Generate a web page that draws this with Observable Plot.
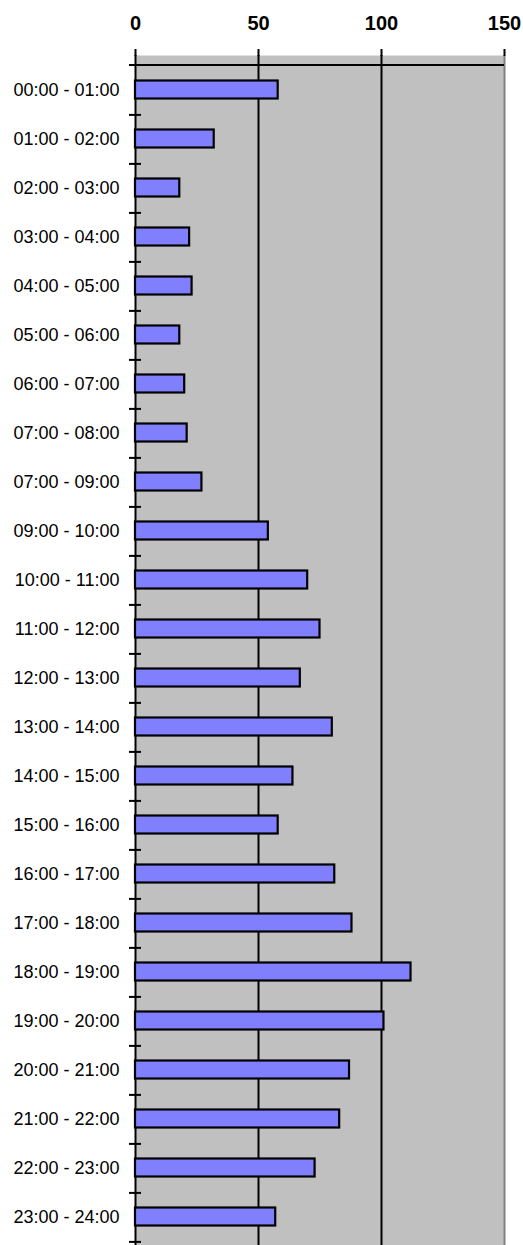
<!DOCTYPE html>
<html><head><meta charset="utf-8">
<script src="https://cdn.jsdelivr.net/npm/d3@7"></script>
<script src="https://cdn.jsdelivr.net/npm/@observablehq/plot@0.6"></script>
<style>html,body{margin:0;padding:0;background:#fff;overflow:hidden}svg{display:block}</style>
</head><body><div id="chart"></div>
<script>
const categories = ["00:00 - 01:00","01:00 - 02:00","02:00 - 03:00","03:00 - 04:00","04:00 - 05:00","05:00 - 06:00","06:00 - 07:00","07:00 - 08:00","07:00 - 09:00","09:00 - 10:00","10:00 - 11:00","11:00 - 12:00","12:00 - 13:00","13:00 - 14:00","14:00 - 15:00","15:00 - 16:00","16:00 - 17:00","17:00 - 18:00","18:00 - 19:00","19:00 - 20:00","20:00 - 21:00","21:00 - 22:00","22:00 - 23:00","23:00 - 24:00"];
const values = [58,32,18,22,23,18,20,21,27,54,70,75,67,80,64,58,81,88,112,101,87,83,73,57];
const xTicks = [0,50,100,150];
const gridValues = [0,50,100];

const data = categories.map((c, i) => ({hour: c, count: values[i]}));

const W = 523, H = 1250, mT = 55, mL = 135, mR = 19, mB = 0;
const bw = (H - mT - mB) / categories.length;
const innerW = W - mL - mR;

const chart = Plot.plot({
  width: W, height: H,
  marginTop: mT, marginLeft: mL, marginRight: mR, marginBottom: mB,
  style: {fontFamily: "'Liberation Sans', Arial, sans-serif", fontSize: "18px", background: "white", color: "black", overflow: "visible"},
  x: {domain: [0, 150], axis: null},
  y: {domain: categories, padding: 0, axis: null},
  marks: [
    Plot.frame({fill: "#c0c0c0"}),
    Plot.ruleX([150], {stroke: "#808080", strokeWidth: 2}),
    Plot.ruleX(gridValues, {stroke: "black", strokeWidth: 2}),
    Plot.ruleY([categories[0]], {y: d => d, dy: -bw / 2, insetLeft: -6, stroke: "black", strokeWidth: 2}),
    Plot.ruleY(categories, {y: d => d, dy: bw / 2, insetLeft: -6, insetRight: innerW - 6, stroke: "black", strokeWidth: 2}),
    Plot.axisX({anchor: "top", ticks: xTicks, tickSize: 7, tickFormat: () => "", label: null, stroke: "black", strokeWidth: 2}),
    Plot.text(xTicks, {x: d => d, text: d => String(d), frameAnchor: "top", dy: -32, lineAnchor: "middle", fontWeight: "bold", fontSize: 20, fill: "black"}),
    Plot.barX(data, {y: "hour", x: "count", fill: "#8080ff", stroke: "black", strokeWidth: 2.2, insetTop: 15.5, insetBottom: 15.5}),
    Plot.axisY({tickSize: 0, tickPadding: 16, fontSize: 18, label: null, fill: "black"})
  ]
});
document.getElementById("chart").appendChild(chart);
</script>
</body></html>
